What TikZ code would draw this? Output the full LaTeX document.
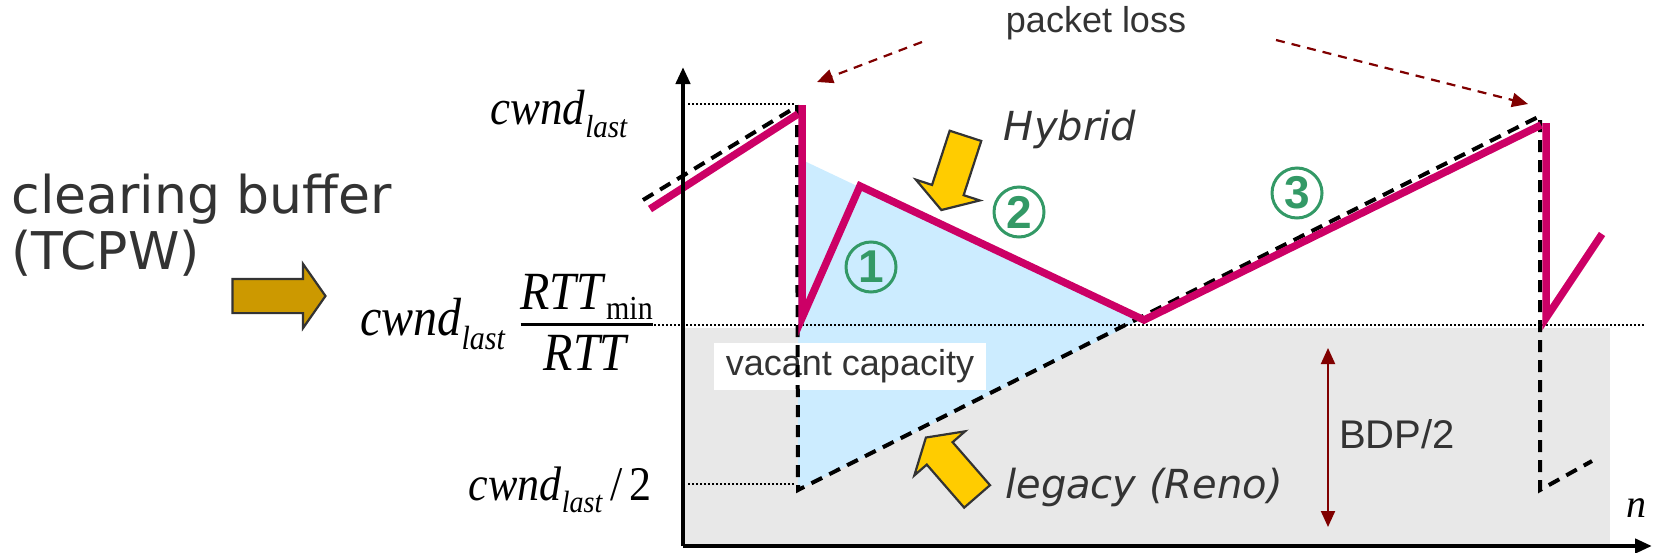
\documentclass[tikz,border=0pt]{standalone}
\usepackage{fontspec}
\setmainfont{Liberation Serif}
\newfontfamily\arialfont{Liberation Sans}
\newfontfamily\comicfont{DejaVu Sans}
\usepackage{tikz}
\usetikzlibrary{arrows.meta, shapes.arrows, positioning}

\definecolor{wndpink}{RGB}{204,0,102}
\definecolor{vacblue}{RGB}{204,236,255}
\definecolor{bufgray}{RGB}{232,232,232}
\definecolor{lossred}{RGB}{128,0,0}
\definecolor{hintyellow}{RGB}{255,204,0}
\definecolor{clrgold}{RGB}{204,153,0}
\definecolor{numgreen}{RGB}{51,153,102}
\definecolor{txtgray}{RGB}{51,51,51}

\newcommand{\fsz}[1]{\fontsize{#1}{#1}\selectfont}
\newcommand{\cwndlast}[1]{\textit{cwnd}\raisebox{-0.25em}{\fsz{#1}\textit{last}}}

\begin{document}
\begin{tikzpicture}[
  x=1pt, y=-1pt,
  hybrid/.style={draw=wndpink, line width=7.5pt, line join=miter},
  reno/.style={draw=black, line width=4pt, dash pattern=on 12pt off 8pt},
  guide/.style={draw=black, line width=2pt, dash pattern=on 2pt off 2pt},
  axisline/.style={line width=4.5pt, -{Triangle[length=17pt, width=14pt]}},
  lossarrow/.style={draw=lossred, line width=2.2pt, dash pattern=on 9pt off 7pt,
                    -{Triangle[length=16pt, width=14pt]}},
  block/.style={single arrow, draw=txtgray, line width=2.2pt, inner sep=0pt,
                minimum width=0pt},
  stepnum/.style={circle, draw=numgreen, line width=3pt, minimum size=50pt,
                  inner sep=0pt, text=numgreen, font=\arialfont\bfseries\fsz{46}},
  lbl/.style={font=\arialfont\fsz{36}, text=txtgray},
  comic/.style={font=\comicfont\itshape\fsz{40}, text=txtgray},
]
  \useasboundingbox (0,0) rectangle (1653,552);

  % Buffer and vacant capacity
  \fill[bufgray] (683,328) rectangle (1610,546);
  \coordinate (top1) at (798,158);
  \coordinate (meet) at (1140,320);
  \coordinate (low1) at (798,490);
  \fill[vacblue] (top1) -- (meet) -- (low1) -- cycle;

  % Guide lines
  \draw[guide] (688,104) -- (794,104);
  \draw[guide] (654,325) -- (1645,325);
  \draw[guide] (688,484) -- (794,484);

  \node[lbl, fill=white, minimum width=272pt, minimum height=47pt, inner sep=0pt]
    (vac) at (850,366) {vacant capacity};

  % Legacy (Reno)
  \draw[reno] (643,200) -- (796,107);
  \draw[reno] (797,105) -- (low1) -- (1540,116) -- (1540,490) -- (1592,461);

  % Hybrid
  \draw[hybrid] (650,209) -- (798,114);
  \draw[hybrid] (802,105) -- (802,318) -- (860,186) -- (1144,320) -- (1541,125);
  \draw[hybrid] (1546,123) -- (1546,318) -- (1602,234);

  % Axes
  \coordinate (orig) at (683,546);
  \draw[axisline] (orig) -- (683,67);
  \draw[axisline] (orig) -- (1652,546);
  \node[font=\itshape\fsz{40}] (nlbl) at (1636,508) {n};

  % Packet loss
  \node[lbl] (loss) at (1096,23) {packet loss};
  \coordinate (lossa) at (922,42);
  \coordinate (lossb) at (1276,40);
  \draw[lossarrow] (lossa) -- (817,82);
  \draw[lossarrow] (lossb) -- (1528,104);

  % BDP/2
  \coordinate (bdptop) at (1328,348);
  \coordinate (bdpbot) at (1328,527);
  \draw[lossred, line width=2pt,
        {Triangle[length=16pt, width=14pt]}-{Triangle[length=16pt, width=14pt]}]
    (bdptop) -- (bdpbot);
  \node[lbl, font=\arialfont\fsz{40}] (bdp) at (1397,434) {BDP/2};

  % Block arrows
  \node[block, fill=hintyellow, minimum height=78pt, inner ysep=15.5pt,
        single arrow head extend=17pt, single arrow tip angle=116,
        rotate=252] (hyarr) at (955,168) {};
  \node[block, fill=hintyellow, minimum height=78pt, inner ysep=16pt,
        single arrow head extend=16.5pt, single arrow tip angle=116,
        rotate=131] (legarr) at (955,471) {};
  \node[block, fill=clrgold, minimum height=93pt, inner ysep=16pt,
        single arrow head extend=15pt, single arrow tip angle=110] (clrarr) at (273,296) {};

  % Texts
  \node[font=\comicfont\fontsize{52}{56}\selectfont, text=txtgray, align=left, anchor=west]
    (clr) at (8,225) {clearing buffer\\(TCPW)};
  \node[comic] (hyb) at (1070,129) {Hybrid};
  \node[comic] (leg) at (1144,487) {legacy (Reno)};

  % Phases
  \node[stepnum] (s1) at (871,267) {1};
  \node[stepnum] (s2) at (1019,212) {2};
  \node[stepnum] (s3) at (1297,193) {3};

  % Window levels
  \node[anchor=east, font=\fsz{45}, inner sep=0pt] (wtop) at (628,114)
    {\scalebox{1}[1.1]{\cwndlast{29}}};
  \node[anchor=east, font=\fsz{48}, inner sep=0pt] (wmid) at (653,329)
    {\scalebox{1}[1.12]{\cwndlast{30}\hspace{15pt}{\setlength{\arrayrulewidth}{2.5pt}%
     \begin{tabular}{@{}c@{}}\textit{RTT}\raisebox{-0.2em}{\fsz{30}min}\\[-2pt]\hline
     \rule{0pt}{40pt}\textit{RTT}\end{tabular}}}};
  \node[anchor=east, font=\fsz{44}, inner sep=0pt] (wlow) at (652,490)
    {\scalebox{1}[1.1]{\cwndlast{28}\,/\,2}};
\end{tikzpicture}
\end{document}
